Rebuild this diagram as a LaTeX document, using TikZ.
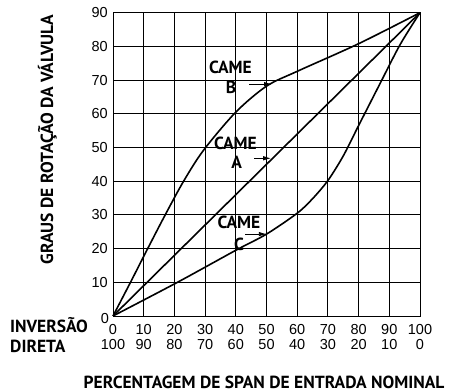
\documentclass[tikz,border=0pt]{standalone}
\usepackage{fontspec}
\setmainfont{Liberation Sans}
\newfontfamily\labelfont{PT Sans}
\usetikzlibrary{arrows.meta}
\tikzset{%
  cametip/.tip={Latex[length=8pt,width=4.5pt]},
  gridline/.style={line width=0.9pt},
  camecurve/.style={line width=1.6pt},
  camelabel/.style={font=\labelfont\bfseries\fontsize{17.5}{19}\selectfont, inner sep=0pt},
  camearrow/.style={line width=0.9pt, -cametip},
  ticklabel/.style={font=\fontsize{14.5}{16}\selectfont, inner sep=0pt}
}

\begin{document}
\begin{tikzpicture}[x=3.07pt,y=3.37pt]
\useasboundingbox (-36.81,-22.55) rectangle (111.40,93.77);
% grid and frame
\draw [gridline,xstep=10,ystep=10] (0,0) grid (100,90);
\draw [gridline] (0,0) rectangle (100,90);
% cams
\draw [camecurve] (0,0) -- (100,90);
\draw [camecurve] plot [smooth] coordinates {(0,0) (5.7,10) (11.3,20) (17,30) (23,40) (29.5,49.2) (40,60.5) (50,68.2) (60,72.6) (80,80.8) (100,90)};
\draw [camecurve] plot [smooth] coordinates {(0,0) (21,10) (40,19.5) (50,24.3) (60,30.5) (65,34.8) (70,40.2) (75,47.5) (80,56.5) (87,69) (93.5,80.5) (100,90)};
% axis numbers
\foreach \v in {10,20,...,90}
  \node [ticklabel, anchor=east] (y\v) at ([xshift=-5pt]0,\v) {\v};
\node [ticklabel] (y0) at ([xshift=-8pt,yshift=-3pt]0,0) {0};
\foreach \v [evaluate=\v as \w using int(100-\v)] in {0,10,...,100} {
  \node [ticklabel, anchor=base] (top\v) at ([yshift=-19pt]\v,0) {\v};
  \node [ticklabel, anchor=base] (bot\v) at ([yshift=-34pt]\v,0) {\w};
}
\node [camelabel, anchor=base west] (inversao) at (-33.55,-5.04) {INVERSÃO};
\node [camelabel, anchor=base west] (direta) at (-33.55,-10.98) {DIRETA};
\node [camelabel, anchor=base] (xtitle) at (49.2,-21.4) {PERCENTAGEM DE SPAN DE ENTRADA NOMINAL};
\node [camelabel, rotate=90, anchor=base] (ytitle) at (-19.54,52.4) {GRAUS DE ROTAÇÃO DA VÁLVULA};
% cam labels
\node [camelabel] (cameB) at (38.27,73.7) {CAME};
\node [camelabel] (letB) at (38.44,67.95) {B};
\coordinate (tipB) at (51.8,68.8);
\draw [camearrow] ([xshift=13pt]letB.east |- tipB) -- (tipB);
\node [camelabel] (cameA) at (39.9,51.3) {CAME};
\node [camelabel] (letA) at (40.3,45.5) {A};
\coordinate (tipA) at (51.5,46.8);
\draw [camearrow] ([xshift=12pt]letA.east |- tipA) -- (tipA);
\node [camelabel] (cameC) at (41.04,27.7) {CAME};
\node [camelabel] (letC) at (41.04,21.4) {C};
\coordinate (tipC) at (50.1,24.3);
\draw [camearrow] ([xshift=1pt]letC.east |- tipC) -- (tipC);
\end{tikzpicture}
\end{document}
